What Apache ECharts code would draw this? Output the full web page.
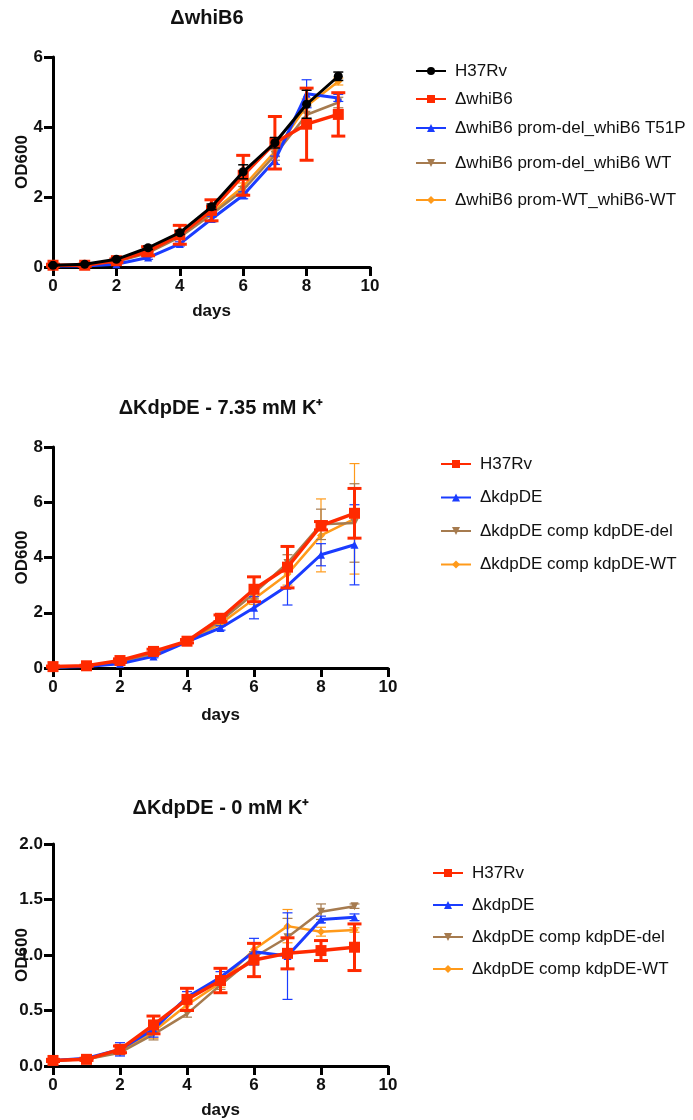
<!DOCTYPE html>
<html><head><meta charset="utf-8">
<script src="https://cdn.jsdelivr.net/npm/echarts@6/dist/echarts.min.js"></script>
<style>html,body{margin:0;padding:0;background:#fff}#c{width:693px;height:1120px}</style>
</head><body><div id="c"></div>
<script>
const days = [0,1,2,3,4,5,6,7,8,9];

// Panel 1: ΔwhiB6
const p1Names = ['H37Rv','ΔwhiB6','ΔwhiB6 prom-del_whiB6 T51P','ΔwhiB6 prom-del_whiB6 WT','ΔwhiB6 prom-WT_whiB6-WT'];
const p1H37Rv   = [0.05,0.08,0.22,0.55,0.98,1.72,2.72,3.55,4.65,5.45];
const p1H37RvErr= [0.02,0.02,0.03,0.05,0.05,0.08,0.20,0.15,0.40,0.12];
const p1Del     = [0.05,0.05,0.18,0.45,0.92,1.62,2.62,3.55,4.08,4.36];
const p1DelErr  = [0.03,0.03,0.05,0.13,0.27,0.30,0.57,0.75,1.03,0.62];
const p1T51P    = [0.03,0.03,0.08,0.27,0.66,1.37,2.05,3.05,4.95,4.83];
const p1T51PErr = [0.02,0.02,0.03,0.05,0.06,0.08,0.10,0.12,0.40,0.10];
const p1WT      = [0.03,0.05,0.15,0.40,0.85,1.50,2.20,3.20,4.35,4.70];
const p1WTErr   = [0.02,0.02,0.03,0.05,0.05,0.08,0.10,0.15,0.25,0.15];
const p1PromWT  = [0.03,0.05,0.18,0.45,0.90,1.55,2.30,3.30,4.60,5.30];
const p1PromWTErr=[0.02,0.02,0.03,0.05,0.05,0.08,0.10,0.15,0.20,0.10];

// Panel 2: ΔKdpDE - 7.35 mM K+
const p2Names = ['H37Rv','ΔkdpDE','ΔkdpDE comp kdpDE-del','ΔkdpDE comp kdpDE-WT'];
const p2H37Rv   = [0.05,0.08,0.27,0.60,0.97,1.80,2.85,3.65,5.15,5.60];
const p2H37RvErr= [0.02,0.02,0.06,0.08,0.06,0.12,0.45,0.75,0.15,0.90];
const p2Kdp     = [0.03,0.05,0.15,0.42,0.95,1.45,2.18,2.98,4.10,4.46];
const p2KdpErr  = [0.02,0.02,0.03,0.05,0.05,0.08,0.40,0.70,0.40,1.45];
const p2CompDel = [0.03,0.06,0.22,0.55,0.97,1.70,2.70,3.80,5.20,5.25];
const p2CompDelErr=[0.02,0.02,0.03,0.05,0.05,0.08,0.20,0.30,0.55,1.42];
const p2CompWT  = [0.03,0.06,0.20,0.50,0.95,1.60,2.50,3.40,4.80,5.40];
const p2CompWTErr=[0.02,0.02,0.03,0.05,0.05,0.08,0.20,0.40,1.32,2.00];

// Panel 3: ΔKdpDE - 0 mM K+
const p3Names = ['H37Rv','ΔkdpDE','ΔkdpDE comp kdpDE-del','ΔkdpDE comp kdpDE-WT'];
const p3H37Rv   = [0.05,0.06,0.15,0.37,0.60,0.77,0.955,1.015,1.04,1.07];
const p3H37RvErr= [0.01,0.01,0.03,0.08,0.10,0.11,0.15,0.14,0.09,0.21];
const p3Kdp     = [0.05,0.07,0.15,0.33,0.62,0.80,1.03,0.99,1.32,1.34];
const p3KdpErr  = [0.01,0.01,0.06,0.07,0.05,0.05,0.12,0.39,0.03,0.03];
const p3CompDel = [0.05,0.06,0.12,0.285,0.47,0.73,0.98,1.16,1.39,1.44];
const p3CompDelErr=[0.01,0.01,0.02,0.05,0.03,0.04,0.05,0.17,0.07,0.02];
const p3CompWT  = [0.05,0.06,0.13,0.31,0.55,0.75,1.05,1.26,1.21,1.225];
const p3CompWTErr=[0.01,0.01,0.02,0.06,0.04,0.04,0.05,0.15,0.04,0.02];

const titles = ['ΔwhiB6','ΔKdpDE - 7.35 mM K⁺','ΔKdpDE - 0 mM K⁺'];
const xName = 'days', yName = 'OD600';

const C = {black:'#000000', red:'#ff2a00', blue:'#1a3cff', brown:'#a67b4f', orange:'#ff9a1a'};
const FONT = '"Liberation Sans", Arial, sans-serif';

const grids = [
  {left:53, top:57, width:317, height:210, outerBoundsMode:'none', containLabel:false},
  {left:53, top:447, width:335, height:221, outerBoundsMode:'none', containLabel:false},
  {left:53, top:844, width:335, height:222, outerBoundsMode:'none', containLabel:false}
];
const yMax = [6,8,2], yInt = [2,2,0.5];
const xNameGap = [36,39,36];

function axisX(i){
  return {type:'value', gridIndex:i, min:0, max:10, interval:2,
    name:xName, nameLocation:'middle', nameGap:xNameGap[i], nameMoveOverlap:false,
    nameTextStyle:{fontFamily:FONT, fontWeight:'bold', fontSize:17, color:'#111'},
    axisLine:{lineStyle:{color:'#000', width:3}},
    axisTick:{show:true, length:9, lineStyle:{color:'#000', width:3}},
    axisLabel:{fontFamily:FONT, fontWeight:'bold', fontSize:17, color:'#111', margin:11},
    splitLine:{show:false}};
}
function axisY(i){
  return {type:'value', gridIndex:i, min:0, max:yMax[i], interval:yInt[i],
    name:yName, nameLocation:'middle', nameGap:22, nameMoveOverlap:false,
    nameTextStyle:{fontFamily:FONT, fontWeight:'bold', fontSize:17, color:'#111'},
    axisLine:{show:true, lineStyle:{color:'#000', width:3}},
    axisTick:{show:true, length:9, lineStyle:{color:'#000', width:3}},
    axisLabel:{fontFamily:FONT, fontWeight:'bold', fontSize:17, color:'#111', margin:10,
      formatter: v => i===2 ? v.toFixed(1) : String(v)},
    splitLine:{show:false}};
}

const series = [];
function addSeries(panel, key, name, vals, errs, color, symbol, symSize, lw, errW, capW, z){
  const full = key + '|' + name;
  series.push({type:'custom', name:'err-'+full, xAxisIndex:panel, yAxisIndex:panel, z:z,
    data: days.map((d,k)=>[d, vals[k]-errs[k], vals[k]+errs[k]]),
    encode:{x:0, y:[1,2]},
    renderItem: function(params, api){
      const x = api.value(0);
      const lo = api.coord([x, api.value(1)]);
      const hi = api.coord([x, api.value(2)]);
      const st = {stroke:color, lineWidth:errW};
      return {type:'group', children:[
        {type:'line', shape:{x1:lo[0], y1:lo[1], x2:hi[0], y2:hi[1]}, style:st},
        {type:'line', shape:{x1:lo[0]-capW/2, y1:lo[1], x2:lo[0]+capW/2, y2:lo[1]}, style:st},
        {type:'line', shape:{x1:hi[0]-capW/2, y1:hi[1], x2:hi[0]+capW/2, y2:hi[1]}, style:st}
      ]};
    }
  });
  series.push({type:'line', name:full, xAxisIndex:panel, yAxisIndex:panel, z:z+1,
    data: days.map((d,k)=>[d, vals[k]]),
    symbol:symbol, symbolSize:symSize, showSymbol:true,
    lineStyle:{color:color, width:lw}, itemStyle:{color:color, borderWidth:0},
    emphasis:{disabled:true}, animation:false});
}
const triDown = 'path://M0,0 L10,0 L5,9 Z';
const triUp = 'triangle';

// panel 1 (draw order: orange, brown, blue, red, black on top)
addSeries(0,'a',p1Names[4],p1PromWT,p1PromWTErr,C.orange,'diamond',8,2.5,1.2,10,2);
addSeries(0,'a',p1Names[3],p1WT,p1WTErr,C.brown,triDown,8,2.5,1.2,10,4);
addSeries(0,'a',p1Names[2],p1T51P,p1T51PErr,C.blue,triUp,8,3,1.2,10,6);
addSeries(0,'a',p1Names[1],p1Del,p1DelErr,C.red,'rect',11,3.5,3,14,8);
addSeries(0,'a',p1Names[0],p1H37Rv,p1H37RvErr,C.black,'circle',9,3,1.5,10,10);

// panel 2
addSeries(1,'b',p2Names[3],p2CompWT,p2CompWTErr,C.orange,'diamond',8,2.5,1.2,10,2);
addSeries(1,'b',p2Names[2],p2CompDel,p2CompDelErr,C.brown,triDown,8,2.5,1.2,10,4);
addSeries(1,'b',p2Names[1],p2Kdp,p2KdpErr,C.blue,triUp,8,3,1.2,10,6);
addSeries(1,'b',p2Names[0],p2H37Rv,p2H37RvErr,C.red,'rect',11,3.5,3,14,8);

// panel 3
addSeries(2,'c',p3Names[3],p3CompWT,p3CompWTErr,C.orange,'diamond',8,2.5,1.2,10,2);
addSeries(2,'c',p3Names[2],p3CompDel,p3CompDelErr,C.brown,triDown,8,2.5,1.2,10,4);
addSeries(2,'c',p3Names[1],p3Kdp,p3KdpErr,C.blue,triUp,8,3,1.2,10,6);
addSeries(2,'c',p3Names[0],p3H37Rv,p3H37RvErr,C.red,'rect',11,3.5,3,14,8);

function legend(key, names, left, top, gap){
  return {left:left, top:top, orient:'vertical', itemGap:gap, itemWidth:30, itemHeight:10,
    data: names.map(n=>key+'|'+n), selectedMode:false,
    formatter: n => n.split('|')[1],
    textStyle:{fontFamily:FONT, fontSize:17, color:'#111', lineHeight:18, padding:[0,0,0,4]}};
}
// panel 1 legend items sit at uneven heights in the reference
const p1LegendTops = [57,85,114,149,186];
const legends = p1Names.map((n,k)=>legend('a',[n],410,p1LegendTops[k],0));
legends.push(legend('b', p2Names, 435, 450, 15.5));
legends.push(legend('c', p3Names, 427, 859, 14));

const chart = echarts.init(document.getElementById('c'), null, {renderer:'canvas'});
chart.setOption({
  backgroundColor:'#fff',
  animation:false,
  title:[
    {text:titles[0], left:202, top:3, textAlign:'center', textStyle:{fontFamily:FONT, fontWeight:'bold', fontSize:20, color:'#111'}},
    {text:titles[1], left:216, top:393, textAlign:'center', textStyle:{fontFamily:FONT, fontWeight:'bold', fontSize:20, color:'#111'}},
    {text:titles[2], left:216, top:793, textAlign:'center', textStyle:{fontFamily:FONT, fontWeight:'bold', fontSize:20, color:'#111'}}
  ],
  grid: grids,
  xAxis: [axisX(0), axisX(1), axisX(2)],
  yAxis: [axisY(0), axisY(1), axisY(2)],
  legend: legends,
  series: series
});
</script></body></html>
